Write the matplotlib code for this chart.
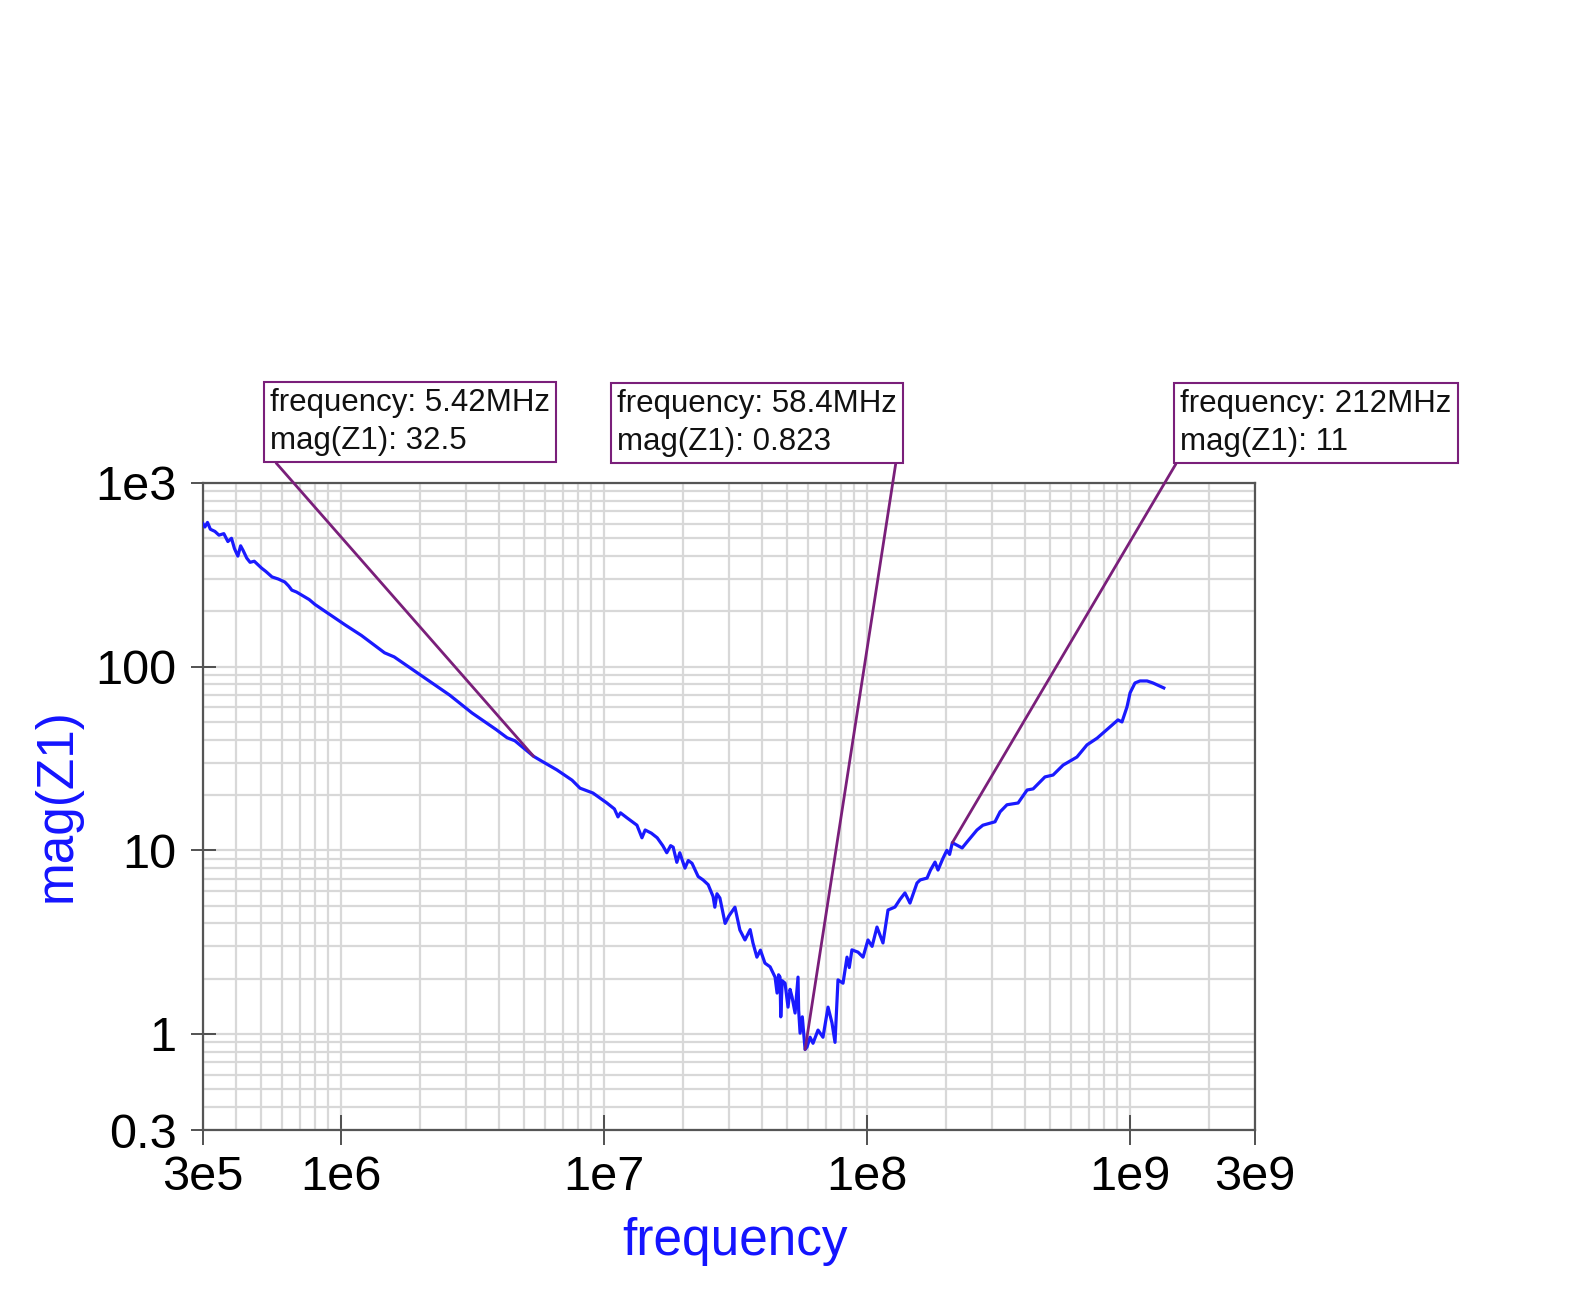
import matplotlib
matplotlib.use('Agg')
import matplotlib.pyplot as plt
from matplotlib.ticker import LogLocator

plt.rcParams['font.family'] = ['Liberation Sans', 'DejaVu Sans']

freq = [3.00e5, 3.05e5, 3.12e5, 3.20e5, 3.33e5, 3.45e5, 3.60e5, 3.73e5, 3.85e5, 3.95e5,
        4.07e5, 4.17e5, 4.26e5, 4.40e5, 4.53e5, 4.70e5, 5.01e5, 5.20e5, 5.49e5, 5.80e5,
        6.14e5, 6.35e5, 6.53e5, 6.80e5, 7.13e5, 7.60e5, 8.00e5, 8.93e5, 1.04e6, 1.20e6,
        1.47e6, 1.60e6, 2.15e6, 2.60e6, 3.16e6, 3.90e6, 4.30e6, 4.60e6, 5.42e6, 5.73e6,
        6.65e6, 7.59e6, 8.14e6, 9.12e6, 1.03e7, 1.10e7, 1.135e7, 1.16e7, 1.23e7, 1.34e7,
        1.40e7, 1.44e7, 1.52e7, 1.60e7, 1.68e7, 1.74e7, 1.80e7, 1.84e7, 1.90e7, 1.95e7,
        2.04e7, 2.10e7, 2.17e7, 2.29e7, 2.39e7, 2.50e7, 2.61e7, 2.65e7, 2.70e7, 2.77e7,
        2.90e7, 3.00e7, 3.16e7, 3.30e7, 3.45e7, 3.61e7, 3.70e7, 3.83e7, 3.95e7, 4.11e7,
        4.30e7, 4.49e7, 4.57e7, 4.63e7, 4.69e7, 4.72e7, 4.78e7, 4.90e7, 5.03e7, 5.12e7,
        5.21e7, 5.35e7, 5.49e7, 5.52e7, 5.59e7, 5.70e7, 5.84e7, 5.94e7, 6.10e7, 6.26e7,
        6.54e7, 6.83e7, 7.14e7, 7.39e7, 7.59e7, 7.79e7, 8.14e7, 8.43e7, 8.60e7, 8.80e7,
        9.28e7, 9.70e7, 1.013e8, 1.05e8, 1.096e8, 1.155e8, 1.207e8, 1.283e8, 1.34e8, 1.40e8,
        1.463e8, 1.556e8, 1.60e8, 1.699e8, 1.75e8, 1.822e8, 1.87e8, 1.95e8, 2.02e8, 2.07e8,
        2.12e8, 2.31e8, 2.41e8, 2.63e8, 2.77e8, 3.08e8, 3.22e8, 3.42e8, 3.77e8, 4.08e8,
        4.30e8, 4.77e8, 5.12e8, 5.59e8, 6.31e8, 6.89e8, 7.53e8, 8.43e8, 9.04e8, 9.36e8,
        9.78e8, 1.005e9, 1.049e9, 1.096e9, 1.166e9, 1.228e9, 1.35e9]
mag = [600, 576, 610, 560, 545, 520, 530, 480, 500, 440,
       400, 455, 430, 390, 370, 375, 344, 330, 308, 300,
       289, 275, 261, 255, 245, 232, 218, 196, 169, 148,
       119, 113, 84.5, 70, 56, 45.5, 41.0, 39.5, 32.5, 31,
       27.4, 24.1, 21.8, 20.5, 18.1, 16.8, 15.2, 16.0, 15.0, 13.7,
       11.7, 12.9, 12.4, 11.7, 10.6, 9.7, 10.6, 10.4, 8.6, 9.7,
       8.0, 8.8, 8.5, 7.2, 6.9, 6.5, 5.6, 4.9, 5.8, 5.5,
       4.0, 4.4, 4.9, 3.68, 3.25, 3.7, 3.13, 2.62, 2.86, 2.43,
       2.32, 2.04, 1.67, 2.1, 2.04, 1.24, 1.95, 1.89, 1.40, 1.75,
       1.59, 1.30, 2.04, 1.35, 1.01, 1.24, 0.823, 0.85, 0.96, 0.89,
       1.05, 0.96, 1.40, 1.15, 0.90, 1.97, 1.89, 2.62, 2.3, 2.87,
       2.79, 2.62, 3.25, 3.0, 3.82, 3.13, 4.73, 4.91, 5.4, 5.86,
       5.16, 6.64, 6.9, 7.06, 7.8, 8.63, 7.81, 9.0, 10.0, 9.5,
       11.0, 10.3, 11.1, 12.9, 13.7, 14.3, 16.2, 17.7, 18.1, 21.3,
       21.6, 25.1, 25.7, 29.1, 32.2, 37.5, 40.8, 47.0, 51.3, 50,
       60.3, 72, 81.5, 83.6, 83.6, 81.5, 76.6]

marker_freq = [5.42e6, 58.4e6, 212e6]
marker_mag = [32.5, 0.823, 11]
marker_text = ['frequency: 5.42MHz\nmag(Z1): 32.5',
               'frequency: 58.4MHz\nmag(Z1): 0.823',
               'frequency: 212MHz\nmag(Z1): 11']

x_ticks = [3e5, 1e6, 1e7, 1e8, 1e9, 3e9]
x_tick_labels = ['3e5', '1e6', '1e7', '1e8', '1e9', '3e9']
y_ticks = [0.3, 1, 10, 100, 1000]
y_tick_labels = ['0.3', '1', '10', '100', '1e3']

W, H = 1578, 1296
fig = plt.figure(figsize=(W / 100, H / 100), dpi=100)
ax = fig.add_axes([203 / W, 1 - 1130 / H, 1052 / W, 647 / H])

ax.plot(freq, mag, color='#1a1aff', lw=2.3, zorder=3)
ax.set_xscale('log')
ax.set_yscale('log')
ax.set_xlim(3e5, 3e9)
ax.set_ylim(0.3, 1000)

ax.set_xticks(x_ticks, x_tick_labels)
ax.set_yticks(y_ticks, y_tick_labels)
ax.xaxis.set_minor_locator(LogLocator(base=10, subs=range(2, 10), numticks=60))
ax.yaxis.set_minor_locator(LogLocator(base=10, subs=range(2, 10), numticks=60))
ax.grid(which='both', color='#d8d8d8', lw=1.6)
ax.set_axisbelow(True)

ax.tick_params(which='minor', length=0, labelbottom=False, labelleft=False)
ax.tick_params(axis='y', which='major', direction='inout', length=18, width=1.3,
               color='#444444', labelsize=35, pad=10)
ax.tick_params(axis='x', which='major', direction='inout', length=22, width=1.3,
               color='#444444', labelsize=35, pad=7)
for s in ax.spines.values():
    s.set_color('#555555')
    s.set_linewidth(1.6)

fig.text(735 / W, 1 - 1241 / H, 'frequency', ha='center', va='center',
         fontsize=37, color='#1414ff')
fig.text(57 / W, 1 - 805 / H, 'mag(Z1)', ha='center', va='center', rotation=90,
         fontsize=37, color='#1414ff')

# marker read-outs: left edge / bottom edge of each box in pixels, and which corner the leader leaves from
box_pos = [(264, 462, (0, 0)), (611, 463, (1, 0)), (1174, 463, (0, 0))]
purple = '#7a1f7a'
for f, m, txt, (bx, by, rel) in zip(marker_freq, marker_mag, marker_text, box_pos):
    ax.annotate(txt, xy=(f, m), xycoords='data',
                xytext=(bx + 6, H - by + 6), textcoords='figure pixels',
                ha='left', va='bottom', fontsize=22.5, color='#111111',
                linespacing=1.35, annotation_clip=False,
                bbox=dict(boxstyle='square,pad=0.2', fc='white', ec=purple, lw=1.5),
                arrowprops=dict(arrowstyle='-', color=purple, lw=2,
                                shrinkA=0, shrinkB=0, relpos=rel),
                zorder=5)

fig.savefig('out.png', dpi=100, facecolor='white')
